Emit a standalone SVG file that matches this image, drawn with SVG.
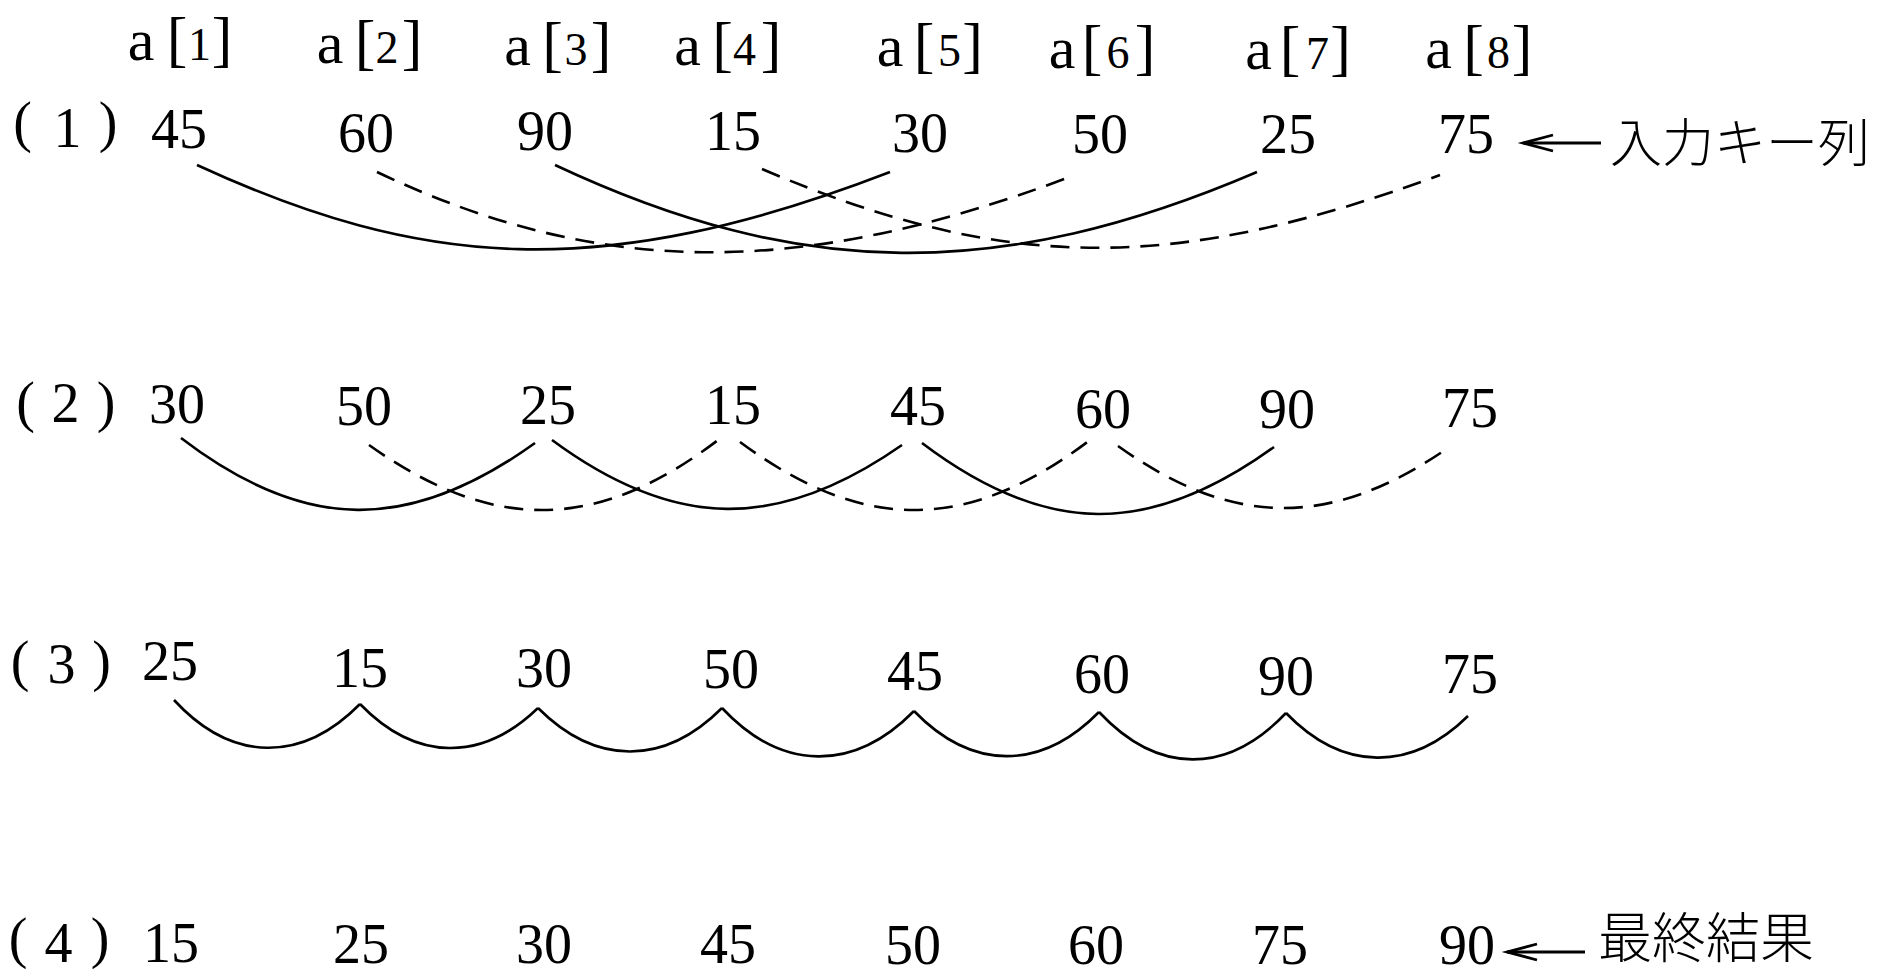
<svg xmlns="http://www.w3.org/2000/svg" width="1877" height="974" viewBox="0 0 1877 974">
<style>
.num{font-family:"Liberation Serif","Times New Roman",serif;font-size:56px;fill:#000;text-anchor:middle}
.par{font-family:"Liberation Serif","Times New Roman",serif;font-size:56px;fill:#000;text-anchor:middle;font-weight:normal}
.ha{font-family:"Liberation Serif","Times New Roman",serif;font-size:60px;fill:#000;text-anchor:middle}
.hb{font-family:"Liberation Serif","Times New Roman",serif;font-size:62px;fill:#000;text-anchor:middle}
.hd{font-family:"Liberation Serif","Times New Roman",serif;font-size:46px;fill:#000;text-anchor:middle}
.jp{font-family:"Noto Sans CJK JP","Noto Sans CJK SC",sans-serif;font-weight:300;fill:#000}
.solid{fill:none;stroke:#000;stroke-width:2.6}
.dash{fill:none;stroke:#000;stroke-width:2.6;stroke-dasharray:19 11}
.arr{fill:none;stroke:#000;stroke-width:3;marker-end:url(#ah)}
</style>
<defs>
<marker id="ah" markerUnits="userSpaceOnUse" markerWidth="40" markerHeight="26" viewBox="-34 -13 40 26" refX="0" refY="0" orient="auto">
<path d="M-30,-8 L0,0 L-30,8" fill="none" stroke="#000" stroke-width="2.8"/>
</marker>
</defs>
<rect width="1877" height="974" fill="#fff"/>

<g id="header">
<g id="hdr-1"><text><tspan class="ha" x="141" y="60">a</tspan><tspan class="hb" x="177" y="60">[</tspan><tspan class="hd" x="199.5" y="60">1</tspan><tspan class="hb" x="222" y="60">]</tspan></text></g>
<g id="hdr-2"><text><tspan class="ha" x="330" y="63">a</tspan><tspan class="hb" x="365" y="63">[</tspan><tspan class="hd" x="387" y="63">2</tspan><tspan class="hb" x="412" y="63">]</tspan></text></g>
<g id="hdr-3"><text><tspan class="ha" x="517.5" y="65">a</tspan><tspan class="hb" x="552.5" y="65">[</tspan><tspan class="hd" x="576" y="65">3</tspan><tspan class="hb" x="601" y="65">]</tspan></text></g>
<g id="hdr-4"><text><tspan class="ha" x="687.5" y="65">a</tspan><tspan class="hb" x="722.5" y="65">[</tspan><tspan class="hd" x="744.5" y="65">4</tspan><tspan class="hb" x="771" y="65">]</tspan></text></g>
<g id="hdr-5"><text><tspan class="ha" x="890" y="66">a</tspan><tspan class="hb" x="924" y="66">[</tspan><tspan class="hd" x="949.5" y="66">5</tspan><tspan class="hb" x="972.5" y="66">]</tspan></text></g>
<g id="hdr-6"><text><tspan class="ha" x="1062" y="68">a</tspan><tspan class="hb" x="1092" y="68">[</tspan><tspan class="hd" x="1118" y="68">6</tspan><tspan class="hb" x="1145" y="68">]</tspan></text></g>
<g id="hdr-7"><text><tspan class="ha" x="1258.5" y="69">a</tspan><tspan class="hb" x="1290" y="69">[</tspan><tspan class="hd" x="1317.5" y="69">7</tspan><tspan class="hb" x="1340.5" y="69">]</tspan></text></g>
<g id="hdr-8"><text><tspan class="ha" x="1438.5" y="68">a</tspan><tspan class="hb" x="1473.5" y="68">[</tspan><tspan class="hd" x="1498.5" y="68">8</tspan><tspan class="hb" x="1522" y="68">]</tspan></text></g>
</g>

<g id="labels">
<g id="lbl-1"><text><tspan class="par" x="22.5" y="141">(</tspan><tspan class="num" x="67.5" y="147">1</tspan><tspan class="par" x="108" y="141">)</tspan></text></g>
<g id="lbl-2"><text><tspan class="par" x="25.5" y="421">(</tspan><tspan class="num" x="65.5" y="422">2</tspan><tspan class="par" x="106" y="421">)</tspan></text></g>
<g id="lbl-3"><text><tspan class="par" x="20" y="680">(</tspan><tspan class="num" x="61.5" y="683">3</tspan><tspan class="par" x="101.5" y="680">)</tspan></text></g>
<g id="lbl-4"><text><tspan class="par" x="18" y="957">(</tspan><tspan class="num" x="58.5" y="962">4</tspan><tspan class="par" x="100" y="957">)</tspan></text></g>
</g>

<g id="row1">
<g id="r1-1"><text class="num" x="179" y="148">45</text></g>
<g id="r1-2"><text class="num" x="366" y="152">60</text></g>
<g id="r1-3"><text class="num" x="545" y="150">90</text></g>
<g id="r1-4"><text class="num" x="733" y="150">15</text></g>
<g id="r1-5"><text class="num" x="920" y="152">30</text></g>
<g id="r1-6"><text class="num" x="1100" y="153">50</text></g>
<g id="r1-7"><text class="num" x="1288" y="153">25</text></g>
<g id="r1-8"><text class="num" x="1466" y="153">75</text></g>
<g id="note-input"><text class="jp" x="1610" y="162" font-size="52">入力キー列</text></g>
</g>

<g id="row2">
<g id="r2-1"><text class="num" x="177" y="423">30</text></g>
<g id="r2-2"><text class="num" x="364" y="425">50</text></g>
<g id="r2-3"><text class="num" x="548" y="424">25</text></g>
<g id="r2-4"><text class="num" x="733" y="424">15</text></g>
<g id="r2-5"><text class="num" x="918" y="425">45</text></g>
<g id="r2-6"><text class="num" x="1103" y="428">60</text></g>
<g id="r2-7"><text class="num" x="1287" y="428">90</text></g>
<g id="r2-8"><text class="num" x="1470" y="427">75</text></g>
</g>

<g id="row3">
<g id="r3-1"><text class="num" x="170" y="680">25</text></g>
<g id="r3-2"><text class="num" x="360" y="687">15</text></g>
<g id="r3-3"><text class="num" x="544" y="687">30</text></g>
<g id="r3-4"><text class="num" x="731" y="688">50</text></g>
<g id="r3-5"><text class="num" x="915" y="690">45</text></g>
<g id="r3-6"><text class="num" x="1102" y="693">60</text></g>
<g id="r3-7"><text class="num" x="1286" y="695">90</text></g>
<g id="r3-8"><text class="num" x="1470" y="693">75</text></g>
</g>

<g id="row4">
<g id="r4-1"><text class="num" x="171" y="962">15</text></g>
<g id="r4-2"><text class="num" x="361" y="963">25</text></g>
<g id="r4-3"><text class="num" x="544" y="963">30</text></g>
<g id="r4-4"><text class="num" x="728" y="963">45</text></g>
<g id="r4-5"><text class="num" x="913" y="964">50</text></g>
<g id="r4-6"><text class="num" x="1096" y="964">60</text></g>
<g id="r4-7"><text class="num" x="1280" y="964">75</text></g>
<g id="r4-8"><text class="num" x="1467" y="964">90</text></g>
<g id="note-result"><text class="jp" x="1598" y="958" font-size="54">最終結果</text></g>
</g>

<g id="connectors">
<path class="solid" d="M197,165 C420,268 600,284 890,172"/>
<path class="dash" d="M377,172 C600,278 800,278 1067,178"/>
<path class="solid" d="M555,165 C800,280 1000,282 1257,172"/>
<path class="dash" d="M762,169 C1005,273 1174,273 1440,175"/>

<path class="solid" d="M181,438 C305,533 410,533 535,443"/>
<path class="dash" d="M369,445 C493,533 598,533 722,437"/>
<path class="solid" d="M552,440 C675,531 779,531 902,445"/>
<path class="dash" d="M740,442 C863,533 967,533 1090,440"/>
<path class="solid" d="M922,443 C1046,537 1150,537 1274,447"/>
<path class="dash" d="M1118,446 C1233,528 1330,528 1445,450"/>

<path class="solid" d="M174,700 C232,763 302,763 360,704"/>
<path class="solid" d="M360,704 C416,762 482,762 538,708"/>
<path class="solid" d="M538,708 C596,766 664,766 722,708"/>
<path class="solid" d="M722,708 C782,772 854,772 914,711"/>
<path class="solid" d="M914,711 C972,771 1041,771 1099,712"/>
<path class="solid" d="M1099,712 C1158,775 1227,775 1286,713"/>
<path class="solid" d="M1286,713 C1343,772 1411,772 1468,716"/>

<line class="arr" x1="1601" y1="143" x2="1523" y2="143"/>
<line class="arr" x1="1585" y1="952" x2="1507" y2="952"/>
</g>
</svg>
